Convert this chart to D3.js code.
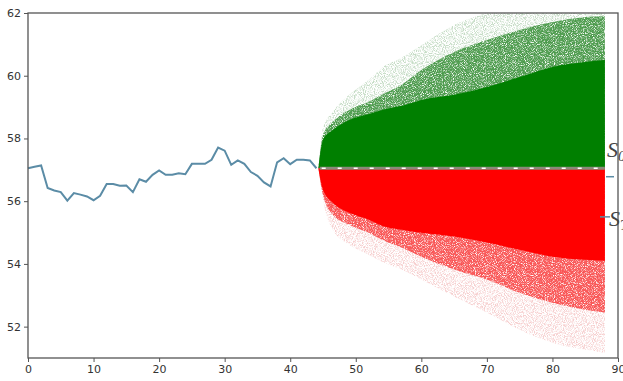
<!DOCTYPE html>
<html>
<head>
<meta charset="utf-8">
<script src="https://cdn.jsdelivr.net/npm/d3@7"></script>
<style>
  body { margin: 0; background: #fff; }
  .tick text { font-family: "DejaVu Sans", sans-serif; font-size: 11px; fill: #333; }
  .tick line { stroke: #555; }
</style>
</head>
<body>
<div id="chart"></div>
<script>
// observed prices, one per day (x = 0..44)
const pastPrices = [57.05, 57.10, 57.14, 56.42, 56.34, 56.29, 56.02, 56.26, 56.21, 56.15,
  56.03, 56.17, 56.55, 56.55, 56.49, 56.50, 56.29, 56.70, 56.62, 56.84,
  56.98, 56.84, 56.84, 56.89, 56.86, 57.19, 57.19, 57.19, 57.32, 57.71,
  57.61, 57.16, 57.30, 57.19, 56.93, 56.81, 56.60, 56.47, 57.24, 57.37,
  57.18, 57.32, 57.32, 57.30, 57.05];
const s0 = 57.05;

// simulated cloud, read as envelopes (solid / dense / faint) per time step
const fanT = [44.3, 45, 46.5, 49, 52, 54, 57, 60, 65, 70, 75, 80, 85, 88];
const greenSolid = [57.06, 57.96, 58.27, 58.59, 58.78, 58.91, 59.04, 59.23, 59.39, 59.64, 59.96, 60.28, 60.44, 60.50];
const greenMid   = [57.06, 58.11, 58.53, 58.91, 59.17, 59.39, 59.71, 60.18, 60.76, 61.14, 61.46, 61.71, 61.87, 61.90];
const greenFaint = [57.06, 58.34, 58.85, 59.39, 59.87, 60.25, 60.57, 60.98, 61.62, 62.00, 62.30, 62.50, 62.60, 62.60];
const redSolid   = [57.04, 56.36, 55.95, 55.63, 55.41, 55.22, 55.09, 54.99, 54.87, 54.68, 54.45, 54.23, 54.13, 54.10];
const redMid     = [57.04, 56.20, 55.57, 55.25, 54.99, 54.77, 54.52, 54.23, 53.82, 53.50, 53.08, 52.76, 52.54, 52.45];
const redFaint   = [57.04, 56.04, 55.09, 54.61, 54.29, 54.07, 53.82, 53.50, 52.96, 52.45, 51.90, 51.49, 51.27, 51.17];

const xTicks = [0, 10, 20, 30, 40, 50, 60, 70, 80, 90];
const yTicks = [52, 54, 56, 58, 60, 62];

// side labels: S_0 and S_T with their marker values
const sideLabels = [
  { sub: "0", text: 57.4, mark: 56.78 },
  { sub: "T", text: 55.2, mark: 55.5 }
];

const W = 623, H = 381;
const padL = 28, padR = 618, padT = 13, padB = 358;

const svg = d3.select("#chart").append("svg")
  .attr("width", W)
  .attr("height", H);

const defs = svg.append("defs");

defs.append("clipPath").attr("id", "plot")
  .append("rect")
  .attr("x", padL).attr("y", padT)
  .attr("width", padR - padL).attr("height", padB - padT);

// grain filters so the thinner parts of the cloud look speckled
function grain(id, slope, offset, seed) {
  const f = defs.append("filter").attr("id", id)
    .attr("x", 0).attr("y", 0).attr("width", 1).attr("height", 1);
  f.append("feTurbulence")
    .attr("type", "fractalNoise").attr("baseFrequency", 1.1)
    .attr("numOctaves", 1).attr("seed", seed).attr("result", "noise");
  f.append("feColorMatrix")
    .attr("in", "noise").attr("type", "matrix")
    .attr("values", "0 0 0 0 0  0 0 0 0 0  0 0 0 0 0  0 0 0 " + slope + " " + offset)
    .attr("result", "mask");
  f.append("feComposite")
    .attr("in", "SourceGraphic").attr("in2", "mask")
    .attr("operator", "in");
}
grain("dense", -4, 2.9, 5);
grain("sparse", -4, 2.3, 9);

const x = d3.scaleLinear().domain([0, 90]).range([padL, padR]);
const y = d3.scaleLinear().domain([51, 62]).range([padB, padT]);

const fan = svg.append("g").attr("clip-path", "url(#plot)");

// draw a band between s0 and an envelope
function band(vals, color, opacity, filter) {
  const rows = fanT.map((t, i) => ({ t: t, v: vals[i] }));
  const p = fan.append("path")
    .datum(rows)
    .attr("fill", color)
    .attr("fill-opacity", opacity)
    .attr("d", d3.area()
      .curve(d3.curveMonotoneX)
      .x(d => x(d.t))
      .y0(y(s0))
      .y1(d => y(d.v)));
  if (filter) p.attr("filter", "url(#" + filter + ")");
}

band(greenFaint, "#3f8a3f", 0.3, "sparse");
band(greenMid, "#127a12", 0.7, "dense");
band(greenSolid, "#007f00", 1, null);
band(redFaint, "#e05050", 0.28, "sparse");
band(redMid, "#f81818", 0.7, "dense");
band(redSolid, "#ff0000", 1, null);

// S0 reference line
fan.append("line")
  .attr("x1", x(44.5)).attr("x2", x(88))
  .attr("y1", y(s0)).attr("y2", y(s0))
  .attr("stroke", "#8a8a7a").attr("stroke-width", 3);
fan.append("line")
  .attr("x1", x(44.8)).attr("x2", x(88))
  .attr("y1", y(s0)).attr("y2", y(s0))
  .attr("stroke", "#fff").attr("stroke-width", 1.5)
  .attr("stroke-dasharray", "4,12");

// history line
svg.append("path")
  .datum(pastPrices)
  .attr("fill", "none")
  .attr("stroke", "#5b8ca6")
  .attr("stroke-width", 2)
  .attr("d", d3.line()
    .x((d, i) => x(i))
    .y(d => y(d)));

// axes
svg.append("g")
  .attr("transform", "translate(0," + padB + ")")
  .call(d3.axisBottom(x).tickValues(xTicks).tickSize(4).tickPadding(3))
  .call(g => g.select(".domain").remove());

svg.append("g")
  .attr("transform", "translate(" + padL + ",0)")
  .call(d3.axisLeft(y).tickValues(yTicks).tickSize(4).tickPadding(3))
  .call(g => g.select(".domain").remove());

// frame
svg.append("rect")
  .attr("x", padL).attr("y", padT)
  .attr("width", padR - padL).attr("height", padB - padT)
  .attr("fill", "none")
  .attr("stroke", "#555")
  .attr("stroke-width", 1.3);

// side labels
sideLabels.forEach((d, i) => {
  svg.append("line")
    .attr("x1", i === 0 ? 606 : 600).attr("x2", i === 0 ? 614 : 610)
    .attr("y1", y(d.mark)).attr("y2", y(d.mark))
    .attr("stroke", "#5b8ca6").attr("stroke-width", 1.5);
  const t = svg.append("text")
    .attr("x", i === 0 ? 607 : 609)
    .attr("y", y(d.text))
    .attr("font-family", "Liberation Serif, serif")
    .attr("font-style", "italic")
    .attr("font-size", 22)
    .attr("fill", "#444");
  t.append("tspan").text("S");
  t.append("tspan").attr("dy", 4).attr("font-size", 15).text(d.sub);
});
</script>
</body>
</html>
